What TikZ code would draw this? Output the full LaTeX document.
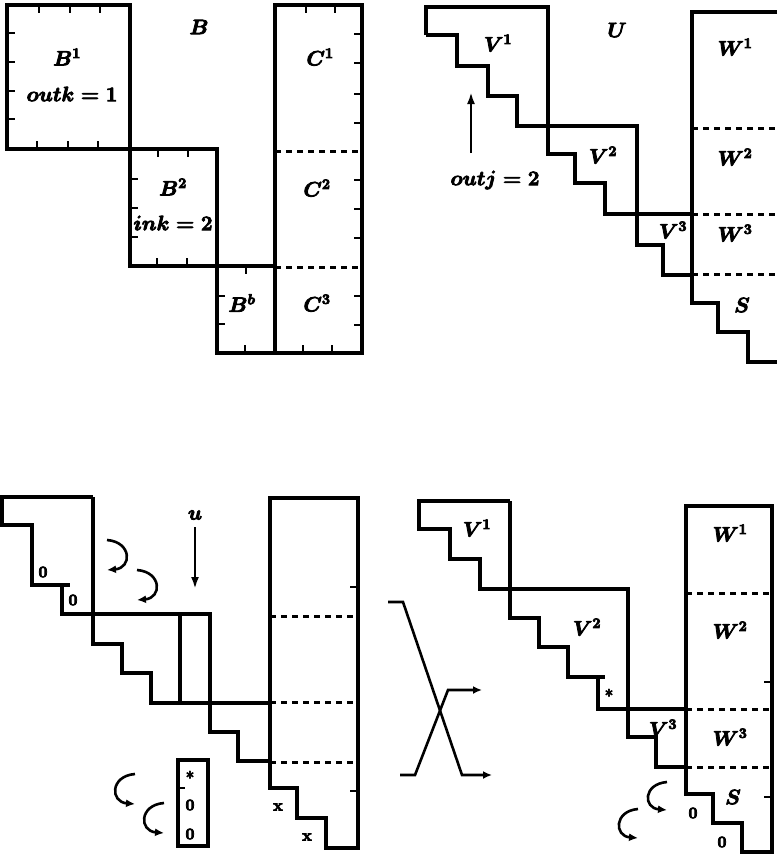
\documentclass[tikz,border=0pt]{standalone}
\usetikzlibrary{arrows.meta}
\newcommand{\heavytxt}[1]{\special{pdf:literal direct 2 Tr 0.8 w}#1\special{pdf:literal direct 0 Tr}}
\tikzset{
  ln/.style={line width=3.2pt, line join=miter},
  dsh/.style={line width=3pt, dash pattern=on 6pt off 5pt},
  tk/.style={line width=2.6pt},
  lbl/.style={font=\fontsize{21}{23}\selectfont\boldmath, inner sep=0pt},
  zl/.style={font=\fontsize{16}{17}\selectfont\bfseries, inner sep=0pt},
  arr/.style={line width=2.6pt, -{Latex[length=12pt,width=8pt]}},
  carr/.style={line width=2.6pt, -{Latex[length=9pt,width=8pt]}},
}
\begin{document}
\begin{tikzpicture}[x=1pt,y=-1pt]
\useasboundingbox (0,0) rectangle (777,857);
% ===== top-left panel =====
\draw[ln] (7,5) rectangle (130,149);
\draw[ln] (130,149) rectangle (217,266);
\draw[ln] (217,266) rectangle (275,353);
\draw[ln] (275,5) rectangle (362,353);
\draw[ln] (130,149) -- (217,149);
\draw[dsh] (275,151) -- (362,151);
\draw[dsh] (275,267) -- (362,267);
\foreach \x in {39,70,100} \draw[tk] (\x,5) -- (\x,13);
\foreach \y in {33,62,91,119} \draw[tk] (7,\y) -- (15,\y);
\foreach \x in {37,68,98} \draw[tk] (\x,149) -- (\x,141);
\foreach \x in {158,188} \draw[tk] (\x,149) -- (\x,157);
\foreach \y in {179,208,237} \draw[tk] (130,\y) -- (138,\y);
\foreach \x in {157,187} \draw[tk] (\x,266) -- (\x,258);
\draw[tk] (246,266) -- (246,274);
\foreach \y in {296,324} \draw[tk] (217,\y) -- (225,\y);
\draw[tk] (245,353) -- (245,345);
\foreach \x in {306,335} \draw[tk] (\x,5) -- (\x,13);
\foreach \y in {34,63,94,123,180,209,238,296,325} \draw[tk] (362,\y) -- (354,\y);
\foreach \x in {303,332} \draw[tk] (\x,353) -- (\x,345);
\node[lbl] (tB) at (199,27) {\heavytxt{$B$}};
\node[lbl] (tB1) at (67,57) {\heavytxt{$B^1$}};
\node[lbl] (toutk) at (72,94) {\heavytxt{$outk=1$}};
\node[lbl] (tB2) at (173,187) {\heavytxt{$B^2$}};
\node[lbl] (tink) at (173,223) {\heavytxt{$ink=2$}};
\node[lbl] (tBb) at (242,303) {\heavytxt{$B^b$}};
\node[lbl] (tC1) at (320,57) {\heavytxt{$C^1$}};
\node[lbl] (tC2) at (317,188) {\heavytxt{$C^2$}};
\node[lbl] (tC3) at (317,303) {\heavytxt{$C^3$}};
% ===== top-right panel =====
\draw[ln] (426,35) -- (426,7) -- (548,7) -- (548,154) -- (575,154) -- (575,183) -- (605,183) -- (605,214) -- (692,214);
\draw[ln] (426,35) -- (457,35) -- (457,66) -- (488,66) -- (488,96) -- (517,96) -- (517,126) -- (637,126) -- (637,245) -- (663,245) -- (663,275) -- (692,275);
\draw[ln] (777,12) -- (692,12) -- (692,303) -- (718,303) -- (718,332) -- (748,332) -- (748,362) -- (777,362);
\foreach \y in {128,214,274} \draw[dsh] (692,\y) -- (777,\y);
\node[lbl] (tU) at (617,30) {\heavytxt{$U$}};
\node[lbl] (tV1) at (498,43) {\heavytxt{$V^1$}};
\node[lbl] (tV2) at (603,155) {\heavytxt{$V^2$}};
\node[lbl] (tV3) at (673,230) {\heavytxt{$V^3$}};
\node[lbl] (tW1) at (735,47) {\heavytxt{$W^1$}};
\node[lbl] (tW2) at (735,157) {\heavytxt{$W^2$}};
\node[lbl] (tW3) at (735,233) {\heavytxt{$W^3$}};
\node[lbl] (tS) at (742,305) {\heavytxt{$S$}};
\node[lbl] (toutj) at (495,180) {\heavytxt{$outj=2$}};
\coordinate (oa) at (471,153);
\coordinate (ob) at (471,92);
\draw[arr] (oa) -- (ob);
% ===== bottom-left panel =====
\draw[ln] (93,497) -- (2,497) -- (2,525) -- (32,525) -- (32,585) -- (70,585);
\draw[ln] (62,585) -- (62,614) -- (210,614) -- (210,732) -- (238,732) -- (238,761) -- (270,761);
\draw[ln] (93,497) -- (93,644) -- (122,644) -- (122,673) -- (151,673) -- (151,703) -- (270,703);
\draw[ln] (180,614) -- (180,703);
\draw[ln] (270,498) -- (358,498) -- (358,848) -- (326,848) -- (326,818) -- (297,818) -- (297,788) -- (270,788) -- cycle;
\foreach \y in {616,702,762} \draw[dsh] (270,\y) -- (358,\y);
\foreach \y in {587,791} \draw[tk] (358,\y) -- (350,\y);
\node[lbl] (tu) at (195,515) {\heavytxt{$u$}};
\coordinate (ua) at (195,527);
\coordinate (ub) at (195,589);
\draw[arr] (ua) -- (ub);
\node[zl] (z1) at (43,572) {\heavytxt{0}};
\node[zl] (z2) at (73,600) {\heavytxt{0}};
\node[zl] (x1) at (278,807) {\heavytxt{x}};
\node[zl] (x2) at (307,837) {\heavytxt{x}};
\draw[ln] (178,760) rectangle (208,846);
\draw[tk] (178,788) -- (185,788);
\node[zl] (st1) at (190,775) {\heavytxt{$\ast$}};
\node[zl] (z3) at (190,805) {\heavytxt{0}};
\node[zl] (z4) at (190,834) {\heavytxt{0}};
\draw[carr] (107,540) .. controls (132,542) and (132,568) .. (107,570);
\draw[carr] (137,570) .. controls (162,572) and (162,598) .. (137,600);
\draw[carr] (135,774) .. controls (110,776) and (110,802) .. (135,804);
\draw[carr] (164,803) .. controls (139,805) and (139,831) .. (164,833);
% ===== crossing arrows =====
\draw[carr] (388,602) -- (403,602) -- (462,775) -- (492,775);
\draw[carr] (400,775) -- (415,775) -- (448,690) -- (482,690);
% ===== bottom-right panel =====
\draw[ln] (510,501) -- (419,501) -- (419,529) -- (450,529) -- (450,559) -- (480,559) -- (480,589) -- (628,589) -- (628,737) -- (656,737) -- (656,767) -- (686,767);
\draw[ln] (510,501) -- (510,618) -- (539,618) -- (539,647) -- (568,647) -- (568,677) -- (605,677);
\draw[ln] (598,677) -- (598,709) -- (686,709);
\draw[ln] (686,506) -- (772,506) -- (772,852) -- (742,852) -- (742,823) -- (713,823) -- (713,794) -- (686,794) -- cycle;
\foreach \y in {593,709,767} \draw[dsh] (686,\y) -- (772,\y);
\foreach \y in {682,797} \draw[tk] (772,\y) -- (764,\y);
\node[lbl] (bV1) at (477,528) {\heavytxt{$V^1$}};
\node[lbl] (bV2) at (587,627) {\heavytxt{$V^2$}};
\node[lbl] (bV3) at (663,728) {\heavytxt{$V^3$}};
\node[lbl] (bW1) at (730,533) {\heavytxt{$W^1$}};
\node[lbl] (bW2) at (730,630) {\heavytxt{$W^2$}};
\node[lbl] (bW3) at (730,737) {\heavytxt{$W^3$}};
\node[lbl] (bS) at (733,797) {\heavytxt{$S$}};
\node[zl] (st2) at (609,693) {\heavytxt{$\ast$}};
\node[zl] (z5) at (693,813) {\heavytxt{0}};
\node[zl] (z6) at (722,842) {\heavytxt{0}};
\draw[carr] (667,782) .. controls (643,784) and (643,808) .. (667,810);
\draw[carr] (638,809) .. controls (614,811) and (614,836) .. (638,838);
\end{tikzpicture}
\end{document}
